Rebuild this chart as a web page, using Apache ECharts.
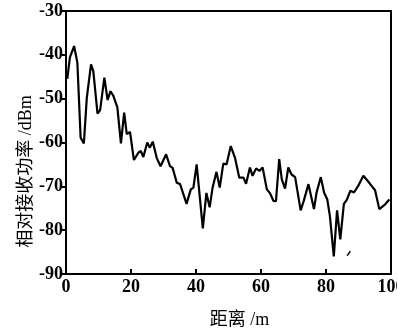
<!DOCTYPE html>
<html>
<head>
<meta charset="utf-8">
<script src="https://cdn.jsdelivr.net/npm/echarts@6/dist/echarts.min.js"></script>
<style>
  html, body { margin: 0; padding: 0; background: #fff; }
  #chart { width: 397px; height: 328px; }
</style>
</head>
<body>
<div id="chart"></div>
<script>
// 距离 (m) 与 相对接收功率 (dBm)
var dist = [0.4, 1.2, 2.5, 3.5, 4.5, 5.5, 6.4, 7.7, 8.4, 9.7, 10.5, 11.8, 12.8, 13.7, 14.6, 15.8, 16.9, 17.9, 18.7, 19.7,
    20.9, 22.3, 23, 23.8, 25, 25.8, 26.7, 27.9, 29.1, 30.8, 32, 32.8, 34.1, 35.1, 37.1, 38.4, 39.2, 40.2, 42.1, 43.2,
    44.2, 45.1, 46.3, 47.3, 48.4, 49.4, 50.7, 52, 53.3, 54.6, 55.4, 56.6, 57.4, 58.5, 59.5, 60.5, 61.8, 62.8, 63.8, 64.6,
    65.6, 66.4, 67.4, 68.4, 69.4, 70.5, 72.2, 73.2, 74.6, 76.3, 77.1, 78.4, 79.4, 80.4, 81.2, 82.4, 83.4, 84.4, 85.5, 86.4,
    87.5, 88.6, 89.9, 91.5, 93.3, 95.1, 96.4, 98.2, 99.5];
var power = [-45.5, -40.6, -38, -41.8, -58.9, -60.2, -49.8, -42.2, -43.7, -53.4, -52.6, -45.2, -50.3, -48.3, -49.4, -52, -60.2, -53.2, -58.1, -57.6,
    -64, -62.3, -61.9, -63.3, -60, -61.2, -59.8, -63.5, -65.4, -62.7, -65.4, -65.8, -69.2, -69.5, -74, -70.7, -70.3, -65, -79.6, -71.5,
    -74.8, -70.3, -66.7, -70.3, -64.8, -65, -60.8, -63.5, -68, -68, -69.4, -65.7, -67.6, -65.9, -66.5, -65.7, -70.7, -71.6, -73.3, -73.4,
    -63.8, -68.4, -70.5, -65.7, -67.3, -67.9, -75.5, -73.2, -69.5, -75.2, -71.4, -67.9, -71.4, -73, -76.8, -86, -75.5, -82.1, -74, -73.1,
    -71, -71.4, -69.9, -67.6, -69.2, -70.9, -75.2, -74.1, -73];
// 图中右下角的一小段短线
var strayDist = [86.5, 87.5];
var strayPower = [-85.8, -84.8];

var xTicks = [0, 20, 40, 60, 80, 100];
var yTicks = [-90, -80, -70, -60, -50, -40, -30];

function pairs(xs, ys) {
    return xs.map(function (x, i) { return [x, ys[i]]; });
}

var labelFont = {
    fontFamily: 'Liberation Serif',
    fontSize: 18,
    fontWeight: 'bold',
    color: '#000'
};

var myChart = echarts.init(document.getElementById('chart'));
var option = {
    backgroundColor: '#fff',
    animation: false,
    grid: {
        left: 66,
        right: 6,
        top: 11,
        bottom: 54,
        outerBoundsMode: 'none'
    },
    xAxis: [
        {
            type: 'value',
            min: xTicks[0],
            max: xTicks[xTicks.length - 1],
            interval: 20,
            name: '距离 /m',
            nameLocation: 'middle',
            nameGap: 37,
            nameMoveOverlap: false,
            nameTextStyle: {
                fontFamily: 'Liberation Serif, Noto Sans CJK SC',
                fontSize: 18,
                color: '#000',
                padding: [0, 0, 0, 22]
            },
            axisLine: { show: true, onZero: false, lineStyle: { color: '#000', width: 2 } },
            axisTick: { show: true, inside: true, length: 5, lineStyle: { color: '#000', width: 2 } },
            axisLabel: Object.assign({ margin: 4 }, labelFont),
            splitLine: { show: false }
        },
        {
            type: 'value',
            position: 'top',
            min: xTicks[0],
            max: xTicks[xTicks.length - 1],
            axisLine: { show: true, onZero: false, lineStyle: { color: '#000', width: 2 } },
            axisTick: { show: false },
            axisLabel: { show: false },
            splitLine: { show: false }
        }
    ],
    yAxis: [
        {
            type: 'value',
            min: yTicks[0],
            max: yTicks[yTicks.length - 1],
            interval: 10,
            name: '相对接收功率 /dBm',
            nameLocation: 'middle',
            nameRotate: 90,
            nameGap: 31,
            nameMoveOverlap: false,
            nameTextStyle: {
                fontFamily: 'Liberation Serif, Noto Sans CJK SC',
                fontSize: 18,
                color: '#000',
                padding: [0, 58, 0, 0]
            },
            axisLine: { show: true, onZero: false, lineStyle: { color: '#000', width: 2 } },
            axisTick: { show: true, inside: false, length: 4, lineStyle: { color: '#000', width: 2 } },
            axisLabel: Object.assign({ margin: 3 }, labelFont),
            splitLine: { show: false }
        },
        {
            type: 'value',
            position: 'right',
            min: yTicks[0],
            max: yTicks[yTicks.length - 1],
            axisLine: { show: true, onZero: false, lineStyle: { color: '#000', width: 2 } },
            axisTick: { show: false },
            axisLabel: { show: false },
            splitLine: { show: false }
        }
    ],
    series: [
        {
            type: 'line',
            data: pairs(dist, power),
            showSymbol: false,
            symbol: 'none',
            lineStyle: { color: '#000', width: 2.2 }
        },
        {
            type: 'line',
            data: pairs(strayDist, strayPower),
            showSymbol: false,
            symbol: 'none',
            lineStyle: { color: '#000', width: 1.5 }
        }
    ]
};
myChart.setOption(option);
</script>
</body>
</html>
